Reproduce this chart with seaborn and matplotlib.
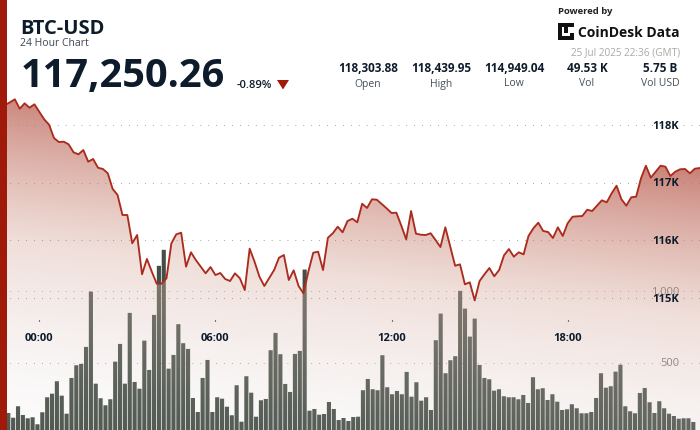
import numpy as np
import pandas as pd
import matplotlib
matplotlib.use("Agg")
import matplotlib.pyplot as plt
from matplotlib.patches import Rectangle, Polygon
import seaborn as sns

# 10 minute candles
price = [118348, 118395, 118447, 118283, 118377, 118301, 118360, 118231, 118099, 118005,
         117774, 117704, 117710, 117664, 117525, 117490, 117565, 117362, 117409, 117257,
         117235, 117160, 116887, 116783, 116435, 116435, 115943, 116087, 115404, 115670,
         115449, 115240, 115240, 115334, 115943, 116099, 116127, 115536, 115786, 115652,
         115536, 115421, 115530, 115391, 115426, 115322, 115287, 115421, 115334, 115130,
         115849, 115623, 115362, 115200, 115339, 115478, 115692, 115739, 115304, 115473,
         115200, 115073, 115449, 115779, 115797, 115478, 116040, 116117, 116231, 116134,
         116330, 116370, 116308, 116631, 116557, 116708, 116701, 116626, 116551, 116470,
         116475, 116249, 116012, 116504, 116110, 116092, 116087, 116117, 116000, 115878,
         116221, 115884, 115553, 115577, 115230, 115264, 114949, 115287, 115404, 115513,
         115369, 115478, 115734, 115843, 115710, 115786, 115751, 116070, 116204, 116301,
         116157, 116139, 116035, 116221, 116070, 116290, 116405, 116412, 116417, 116527,
         116504, 116597, 116690, 116656, 116812, 116944, 116708, 116597, 116743, 116753,
         117073, 117292, 117084, 117188, 117292, 117275, 117113, 117188, 117230, 117235,
         117160, 117240, 117252, 117250]

volume = [147, 114, 194, 133, 110, 117, 68, 152, 257, 282,
          369, 268, 142, 392, 481, 490, 609, 996, 352, 250,
          201, 243, 506, 630, 352, 847, 364, 317, 653, 448,
          833, 1176, 1288, 457, 553, 768, 635, 595, 252, 154,
          392, 518, 154, 257, 247, 191, 131, 341, 86, 404,
          289, 121, 236, 245, 586, 707, 558, 350, 294, 560,
          581, 1150, 163, 175, 135, 140, 224, 175, 98, 112,
          91, 119, 121, 306, 385, 313, 306, 551, 327, 278,
          301, 278, 434, 261, 362, 233, 257, 168, 656, 842,
          425, 516, 544, 1001, 877, 681, 807, 483, 392, 383,
          303, 313, 264, 257, 257, 243, 273, 217, 397, 313,
          320, 238, 278, 226, 168, 173, 208, 180, 145, 145,
          154, 252, 425, 324, 334, 436, 485, 194, 159, 145,
          287, 322, 222, 147, 229, 180, 142, 126, 107, 110,
          110, 84]

time_ticks = [0, 6, 12, 18]
time_labels = ["00:00", "06:00", "12:00", "18:00"]
price_ticks = [115000, 116000, 117000, 118000]
price_labels = ["115K", "116K", "117K", "118K"]
volume_ticks = [500, 1000]
volume_labels = ["500", "1,000"]
stat_values = ["118,303.88", "118,439.95", "114,949.04", "49.53 K", "5.75 B"]
stat_names = ["Open", "High", "Low", "Vol", "Vol USD"]

W, H = 700, 430
RED = "#a01a0a"
INK = "#0d1b2a"

sns.set_theme(style="white")
plt.rcParams["font.family"] = ["Open Sans", "DejaVu Sans"]

line_df = pd.DataFrame({"hour": (np.arange(len(price)) - 7) / 6, "price": price})
bar_df = pd.DataFrame({"hour": np.arange(len(volume)) * 24 / 145 - 1.056, "volume": volume})

fig = plt.figure(figsize=(W / 100, H / 100), dpi=100, facecolor="white")
rect = [7 / W, 0, 693 / W, 1]
xlim = (-1.1005, 22.51)
dots = (5.04, (0.72, 7.2))

# volume goes underneath, the price gradient is laid over it
ax_vol = fig.add_axes(rect)
sns.barplot(data=bar_df, x="hour", y="volume", native_scale=True, color="#444e46",
            saturation=1, width=0.85, linewidth=0, errorbar=None, ax=ax_vol)
for bar in ax_vol.patches:
    bar.set_snap(False)
ax_vol.set_xlim(xlim)
ax_vol.set_ylim(28, 3035)
ax_vol.set_yticks(volume_ticks)
ax_vol.set_xticks([])
ax_vol.set_xlabel("")
ax_vol.set_ylabel("")
ax_vol.set_axisbelow(True)
ax_vol.grid(axis="y", color="#8a8a8a", lw=0.72, ls=dots)
ax_vol.tick_params(axis="y", length=0, labelleft=False, labelright=False)
sns.despine(ax=ax_vol, left=True, bottom=True)

ax_price = fig.add_axes(rect)
ax_price.patch.set_alpha(0)
ax_price.set_ylim(112696, 120174)

# slanted gradient, clipped to the area under the line
xx, yy = np.meshgrid(np.arange(7, W) + 0.5, np.arange(H) + 0.5)
u = yy - 0.11 * xx
stops = [90, 242, 381, 460]
grad = np.dstack([
    np.interp(u, stops, [178, 219, 220, 225]) / 255,
    np.interp(u, stops, [75, 178, 207, 220]) / 255,
    np.interp(u, stops, [60, 165, 205, 220]) / 255,
    np.interp(u, stops, [0.70, 0.41, 0.145, 0.04]),
])
im = ax_price.imshow(grad, extent=(xlim[0], xlim[1], 112696, 120174), aspect="auto",
                     origin="upper", zorder=1)
area = ax_price.fill_between(line_df["hour"], line_df["price"], 112696, facecolor="none", lw=0)
im.set_clip_path(area.get_paths()[0], transform=ax_price.transData)

sns.lineplot(data=line_df, x="hour", y="price", color="#ab2c1e", lw=1.35, estimator=None,
             sort=False, zorder=3, ax=ax_price)
ax_price.set_xlim(xlim)
ax_price.set_ylim(112696, 120174)
ax_price.set_xlabel("")
ax_price.set_ylabel("")
ax_price.set_xticks([])
sns.despine(ax=ax_price, left=True, bottom=True)
ax_price.set_yticks(price_ticks)
ax_price.grid(axis="y", color="#8a8a8a", lw=0.72, ls=dots, zorder=4)
ax_price.set_axisbelow(False)
ax_price.tick_params(axis="y", length=0, labelleft=False)
ax_vol.set_zorder(0)
ax_price.set_zorder(1)


def label(x, y, s, **kw):
    fig.text(x / W, 1 - y / H, s, **kw)


# axis values sit inside the chart, right aligned
for v, s in zip(volume_ticks, volume_labels):
    label(679, 434 - v / 6.993, s, ha="right", va="center_baseline", fontsize=8, color="#9a8480", zorder=5)
for v, s in zip(price_ticks, price_labels):
    label(679, 125 + (118000 - v) * 0.0575, s, ha="right", va="center_baseline", fontsize=8,
          fontweight="bold", color=INK, zorder=5)

# time ticks hang in the middle of the chart
ax_time = fig.add_axes([7 / W, 110 / H, 693 / W, 0.01], zorder=2)
ax_time.patch.set_alpha(0)
ax_time.set_yticks([])
ax_time.set_xlim(xlim)
ax_time.set_xticks(time_ticks, time_labels, fontsize=8, fontweight="bold", color=INK)
ax_time.tick_params(axis="x", length=0.8, width=0.8, pad=8.7, color="black", bottom=True)
sns.despine(ax=ax_time, left=True, bottom=True)

fig.add_artist(Rectangle((0, 0), 7.3 / W, 1, transform=fig.transFigure, color=RED, lw=0, zorder=6))
label(20.5, 34, "BTC-USD", fontsize=14.5, fontweight="bold", color=INK)
label(20.5, 46.5, "24 Hour Chart", fontsize=7.5, color="#3c4650")
label(21, 87.3, "117,250.26", fontsize=28.6, fontweight="bold", color=INK)
label(237, 87.7, "-0.89%", fontsize=8, fontweight="semibold", color=INK)
fig.add_artist(Polygon([(277 / W, 1 - 80 / H), (289 / W, 1 - 80 / H), (283 / W, 1 - 89.5 / H)],
                       transform=fig.transFigure, color=RED, lw=0))

for cx, val, name in zip([368, 441, 514, 587, 660], stat_values, stat_names):
    label(cx, 72, val, fontsize=8.5, fontweight="bold", color=INK, ha="center")
    label(cx, 86.5, name, fontsize=7.5, color="#46505a", ha="center")

label(558, 14.5, "Powered by", fontsize=6.8, fontweight="bold", color="#222222")
label(577.5, 37, "CoinDesk Data", fontsize=10, fontweight="bold", color="#111111")
label(680, 55, "25 Jul 2025 22:36 (GMT)", fontsize=7.2, color="#a8a8a8", ha="right")

# logo: block of small squares
ax_logo = fig.add_axes([558 / W, 1 - 40 / H, 16 / W, 17 / H], zorder=4)
ax_logo.axis("off")
logo_col = [0, 0, 0, 0, 0, 1, 2, 3, 4, 1, 2, 3, 4, 2, 4, 2]
logo_row = [0, 1, 2, 3, 4, 0, 0, 0, 0, 4, 4, 4, 4, 2, 1, 3]
ax_logo.scatter(logo_col, logo_row, s=5, marker="s", color="#111111", lw=0)
ax_logo.set_xlim(-0.5, 4.5)
ax_logo.set_ylim(-0.5, 4.5)

fig.savefig("out.png", dpi=100)
